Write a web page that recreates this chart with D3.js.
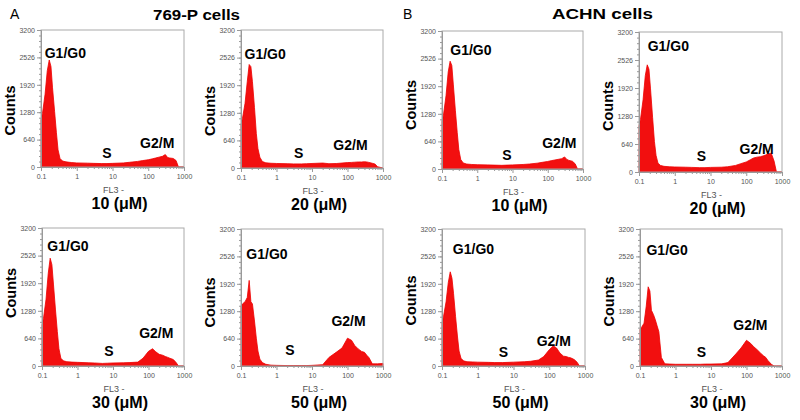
<!DOCTYPE html>
<html>
<head>
<meta charset="utf-8">
<script src="https://cdn.jsdelivr.net/npm/d3@7"></script>
<style>
  body { margin: 0; background: #fff; }
  svg text { font-family: "Liberation Sans", Arial, sans-serif; }
  .tick text { fill: #555; font-size: 7px; }
  .tick line, .domain { stroke: #999; }
</style>
</head>
<body>
<div id="chart"></div>
<script>
// FL3 channel positions (log scale) shared by every histogram
var fl3 = [0.1, 0.11, 0.13, 0.15, 0.17, 0.19, 0.21, 0.24, 0.27, 0.3, 0.34, 0.4, 0.5, 0.7, 1, 2, 3, 5, 7, 10,
           20, 30, 50, 70, 100, 130, 160, 200, 250, 300, 350, 400, 500, 600, 700, 1000];

// counts
var p769_10 = [1100, 1250, 1700, 2250, 2500, 2350, 1850, 1300, 800, 400, 200, 140, 120, 105, 95, 90, 85, 80, 80, 85,
               95, 110, 130, 150, 170, 190, 210, 230, 250, 290, 220, 210, 200, 150, 0, 0];
var p769_20 = [1000, 1150, 1500, 2000, 2400, 2350, 2000, 1400, 800, 450, 250, 150, 120, 110, 105, 100, 95, 95, 100, 105,
               115, 100, 105, 115, 125, 130, 135, 140, 140, 145, 140, 130, 110, 90, 30, 0];
var p769_30 = [950, 1100, 1550, 2150, 2500, 2350, 1900, 1300, 800, 400, 180, 120, 100, 90, 85, 75, 70, 60, 65, 70,
               75, 80, 90, 180, 340, 400, 330, 270, 250, 220, 200, 180, 150, 80, 0, 0];
var p769_50 = [1400, 1450, 1500, 1600, 2000, 1500, 1450, 1050, 650, 350, 160, 80, 40, 20, 15, 10, 10, 10, 10, 15,
               30, 200, 330, 420, 650, 600, 480, 400, 340, 320, 250, 200, 50, 50, 50, 60];
var achn_10 = [1100, 1250, 1700, 2250, 2500, 2400, 1950, 1350, 850, 450, 220, 140, 115, 105, 100, 95, 90, 85, 90, 95,
               105, 115, 135, 155, 175, 195, 210, 225, 240, 280, 220, 200, 180, 120, 0, 0];
var achn_20 = [1050, 1200, 1650, 2200, 2450, 2350, 1900, 1250, 700, 380, 200, 150, 130, 120, 115, 110, 105, 100, 100, 105,
               110, 120, 150, 190, 230, 280, 320, 340, 350, 370, 390, 410, 430, 250, 0, 0];
var achn_50 = [1000, 1150, 1500, 1950, 2200, 2050, 1700, 1150, 700, 350, 180, 120, 100, 95, 90, 85, 80, 80, 85, 90,
               100, 110, 140, 220, 380, 470, 420, 300, 230, 220, 200, 190, 150, 90, 0, 0];
var achn_30 = [850, 900, 1000, 1400, 1850, 1750, 1300, 1200, 1080, 950, 800, 200, 50, 45, 40, 40, 40, 40, 45, 45,
               50, 80, 280, 420, 600, 530, 450, 380, 300, 240, 200, 130, 40, 0, 0, 0];

var doses = ["10 (μM)", "20 (μM)", "30 (μM)", "50 (μM)", "10 (μM)", "20 (μM)", "50 (μM)", "30 (μM)"];
var series = [p769_10, p769_20, p769_30, p769_50, achn_10, achn_20, achn_50, achn_30];

var xTicks = [0.1, 1, 10, 100, 1000];
var xTickLabels = ["0.1", "1", "10", "100", "1000"];
var yTicks = [0, 640, 1280, 1920, 2560, 3200];
var yTickLabels = ["0", "640", "1280", "1920", "2526", "3200"];

// panel boxes and annotation anchors (data coords)
var panels = [
  {x: 41,  y: 30,  w: 143, h: 137, g1: [0.48, 2540], s: [7, 200],   g2: [178, 440], cdy: 12},
  {x: 241, y: 30,  w: 142, h: 138, g1: [0.48, 2520], s: [4.2, 230], g2: [121, 410], cdy: 12},
  {x: 42,  y: 228, w: 142, h: 138, g1: [0.54, 2660], s: [7.7, 233], g2: [166, 650], cdy: -4},
  {x: 241, y: 229, w: 142, h: 137, g1: [0.54, 2500], s: [2.4, 265], g2: [107, 930], cdy: 5},
  {x: 442, y: 31,  w: 141, h: 138, g1: [0.66, 2650], s: [6.9, 215], g2: [213, 485], cdy: 5},
  {x: 639, y: 32,  w: 143, h: 140, g1: [0.66, 2770], s: [5.6, 245], g2: [195, 405], cdy: 4},
  {x: 442, y: 229, w: 143, h: 137, g1: [0.76, 2625], s: [5.2, 218], g2: [134, 466], cdy: 3},
  {x: 640, y: 229, w: 142, h: 137, g1: [0.58, 2600], s: [5.4, 218], g2: [129, 830], cdy: 4}
];

var svg = d3.select("#chart").append("svg")
    .attr("width", 800)
    .attr("height", 420);

// figure letters and cell line titles
svg.append("text").attr("x", 10).attr("y", 19).attr("font-size", 14).text("A");
svg.append("text").attr("x", 403).attr("y", 19).attr("font-size", 14).text("B");
svg.append("text").attr("x", 153).attr("y", 20).attr("font-size", 14).attr("font-weight", "bold")
    .attr("textLength", 87).attr("lengthAdjust", "spacingAndGlyphs").text("769-P cells");
svg.append("text").attr("x", 552).attr("y", 19).attr("font-size", 14).attr("font-weight", "bold")
    .attr("textLength", 101).attr("lengthAdjust", "spacingAndGlyphs").text("ACHN cells");

panels.forEach(function(p, i) {
    var x = d3.scaleLog().domain([0.1, 1000]).range([0, p.w]);
    var y = d3.scaleLinear().domain([0, 3200]).range([p.h, 0]);

    var g = svg.append("g").attr("transform", `translate(${p.x}, ${p.y})`);

    var pts = fl3.map(function(v, j) { return [v, series[i][j]]; });
    var area = d3.area()
        .x(d => x(d[0]))
        .y0(y(0))
        .y1(d => y(d[1]));
    g.append("path")
        .datum(pts)
        .attr("d", area)
        .attr("fill", "#f20f0f")
        .attr("stroke", "#e00")
        .attr("stroke-width", 0.8);

    // frame
    g.append("rect")
        .attr("width", p.w).attr("height", p.h)
        .attr("fill", "none").attr("stroke", "#aaa");

    // minor ticks
    var minorX = [];
    for (var e = -1; e < 3; e++) for (var k = 2; k < 10; k++) minorX.push(k * Math.pow(10, e));
    g.append("g").attr("transform", `translate(0, ${p.h})`)
        .call(d3.axisBottom(x).tickValues(minorX).tickSize(2).tickFormat(""))
        .select(".domain").remove();
    g.append("g")
        .call(d3.axisLeft(y).tickValues(d3.range(0, 3201, 128)).tickSize(2).tickFormat(""))
        .select(".domain").remove();

    g.append("g").attr("transform", `translate(0, ${p.h})`)
        .call(d3.axisBottom(x).tickValues(xTicks).tickSize(4).tickPadding(3)
            .tickFormat((d, j) => xTickLabels[j]));
    g.append("g")
        .call(d3.axisLeft(y).tickValues(yTicks).tickSize(4).tickPadding(2)
            .tickFormat((d, j) => yTickLabels[j]));

    g.append("text")
        .attr("transform", `translate(${-26}, ${p.h / 2 + p.cdy}) rotate(-90)`)
        .attr("text-anchor", "middle")
        .attr("font-size", 14.5).attr("font-weight", "bold")
        .text("Counts");

    g.append("text")
        .attr("x", p.w / 2 + 1).attr("y", p.h + 26)
        .attr("text-anchor", "middle")
        .attr("font-size", 9).attr("fill", "#555")
        .text("FL3 -");

    g.append("text")
        .attr("x", p.w / 2 + 7).attr("y", p.h + 42)
        .attr("text-anchor", "middle")
        .attr("font-size", 16).attr("font-weight", "bold")
        .text(doses[i]);

    // phase labels
    [["G1/G0", p.g1], ["S", p.s], ["G2/M", p.g2]].forEach(function(l) {
        g.append("text")
            .attr("x", x(l[1][0])).attr("y", y(l[1][1]))
            .attr("text-anchor", "middle")
            .attr("font-size", 14).attr("font-weight", "bold")
            .text(l[0]);
    });
});
</script>
</body>
</html>
